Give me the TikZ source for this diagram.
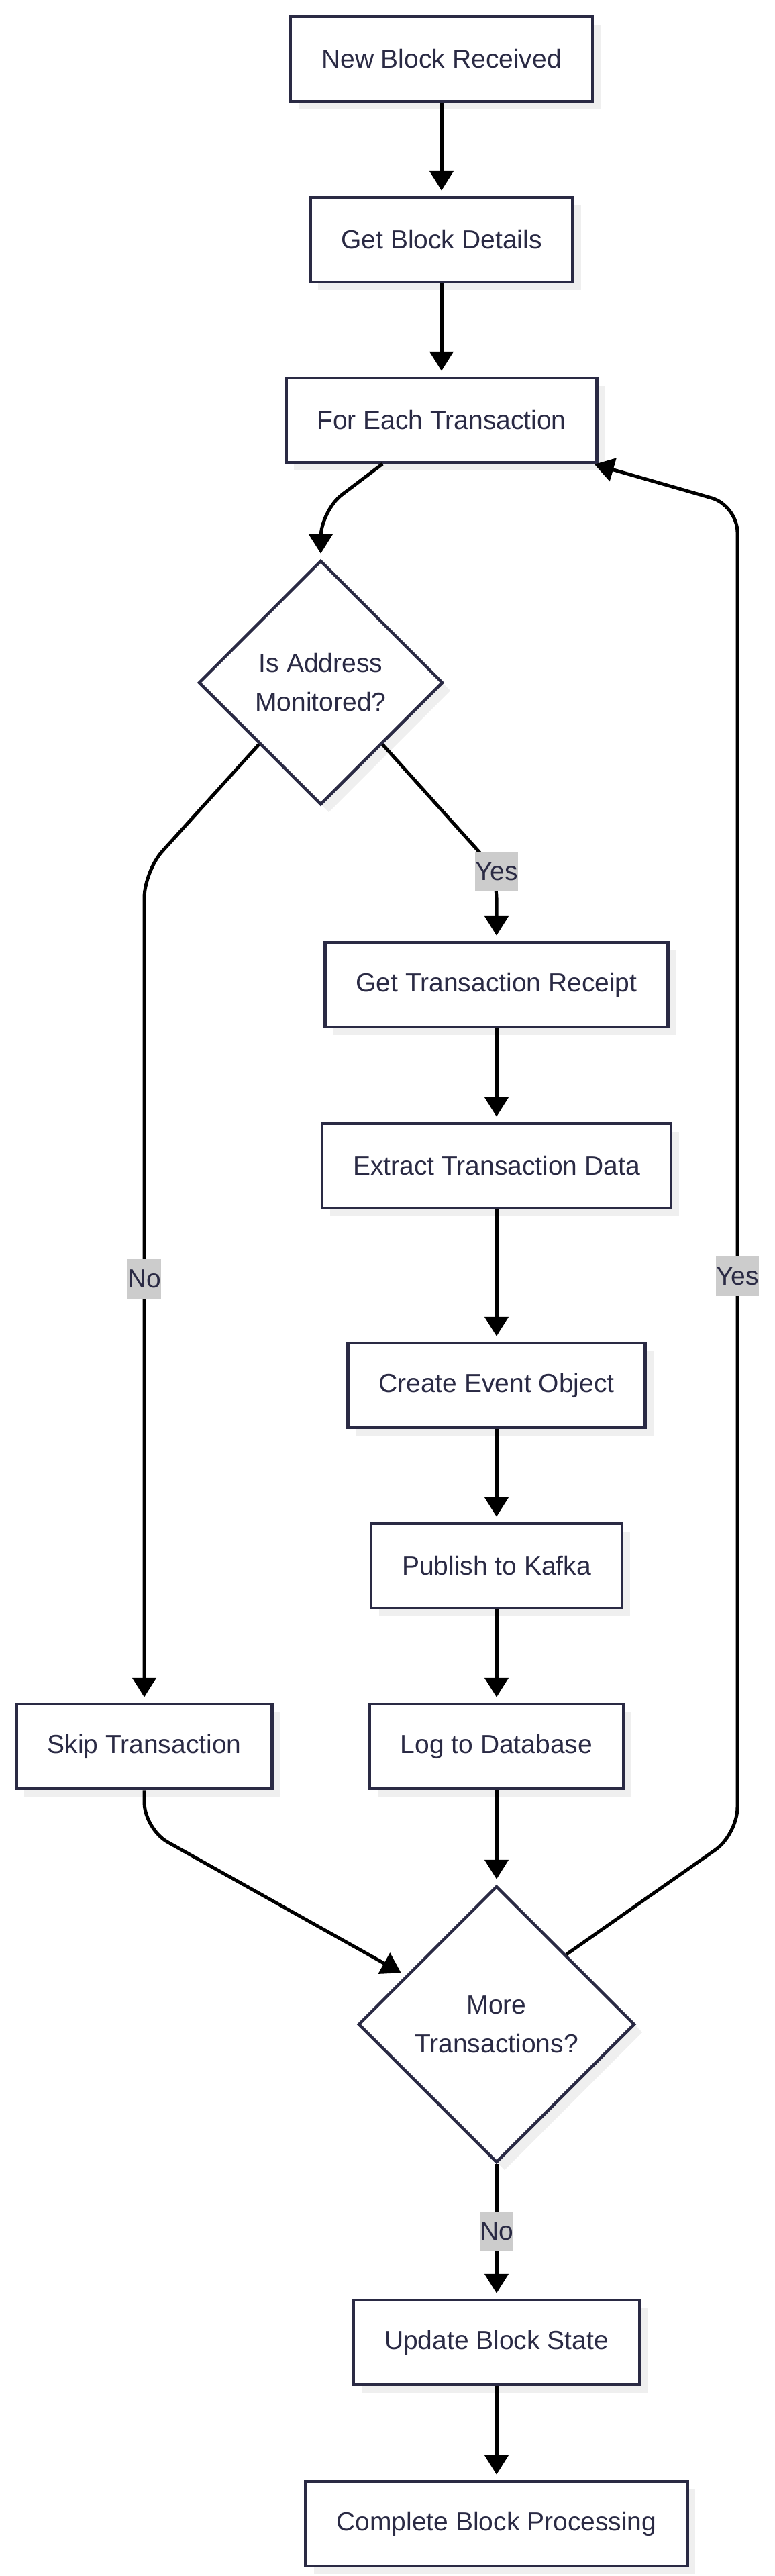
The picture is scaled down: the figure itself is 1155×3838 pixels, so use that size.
\documentclass[tikz,border=0pt]{standalone}
\usepackage{fontspec}
\setmainfont{Liberation Sans}
\usetikzlibrary{arrows.meta,shapes.geometric,shadows,calc}
\definecolor{navy}{RGB}{42,42,68}
\definecolor{shade}{RGB}{239,239,239}
\definecolor{tagbg}{RGB}{204,204,204}
\tikzset{
  proc/.style={draw=navy, line width=4.5pt, fill=white, text=navy,
    minimum height=126pt, inner xsep=46pt, font=\fontsize{39}{58}\selectfont,
    drop shadow={shadow xshift=12pt, shadow yshift=-12pt, fill=shade, opacity=1}},
  decision/.style={proc, diamond, aspect=1, inner sep=0pt, align=center},
  tag/.style={sharp corners, fill=tagbg, text=navy, inner xsep=0pt, inner ysep=0pt,
    minimum height=59pt, font=\fontsize{39}{58}\selectfont},
  flow/.style={line width=5pt, -{Triangle[length=29pt,width=35pt]}, shorten >=8pt},
  bent/.style={flow, rounded corners=40pt}
}
\begin{document}
\begin{tikzpicture}[x=1pt, y=-1pt]
\useasboundingbox (0,0) rectangle (1155,3838);
\node[proc] (nbr) at (658,88) {New Block Received};
\node[proc] (gbd) at (658,357) {Get Block Details};
\node[proc] (fet) at (658,626) {For Each Transaction};
\node[decision, minimum width=364pt, minimum height=364pt] (d1) at (478,1017) {Is Address\\Monitored?};
\node[proc] (gtr) at (740,1467) {Get Transaction Receipt};
\node[proc] (etd) at (740,1737) {Extract Transaction Data};
\node[proc] (ceo) at (740,2064) {Create Event Object};
\node[proc] (ptk) at (740,2333) {Publish to Kafka};
\node[proc] (stx) at (215,2602) {Skip Transaction};
\node[proc] (ltd) at (740,2602) {Log to Database};
\node[decision, minimum width=412pt, minimum height=412pt] (d2) at (740,3016) {More\\Transactions?};
\node[proc] (ubs) at (740,3490) {Update Block State};
\node[proc] (cbp) at (740,3760) {Complete Block Processing};
%
\foreach \a/\b in {nbr/gbd, gbd/fet, gtr/etd, etd/ceo, ceo/ptk, ptk/ltd, ltd/d2, ubs/cbp}
  \draw[flow] (\a) -- (\b);
\draw[bent] ([xshift=-88pt]fet.south) -- (478,761) -- (d1);
\draw[bent] (d1.south east) -- (740,1298) node[tag] {Yes} -- (gtr);
\draw[bent] (d1.south west) -- (215,1298) -- node[tag, pos=.49] {No} (stx);
\draw[bent] (stx.south) -- (215,2725) -- ($(d2.west)!.35!(d2.north)$);
\draw[bent, shorten >=2pt] (d2.north east) -- (1099,2733) -- node[tag, pos=.42] {Yes} (1099,753) -- ([xshift=-8pt]fet.south east);
\draw[flow] (d2) -- node[tag] {No} (ubs);
\end{tikzpicture}
\end{document}
